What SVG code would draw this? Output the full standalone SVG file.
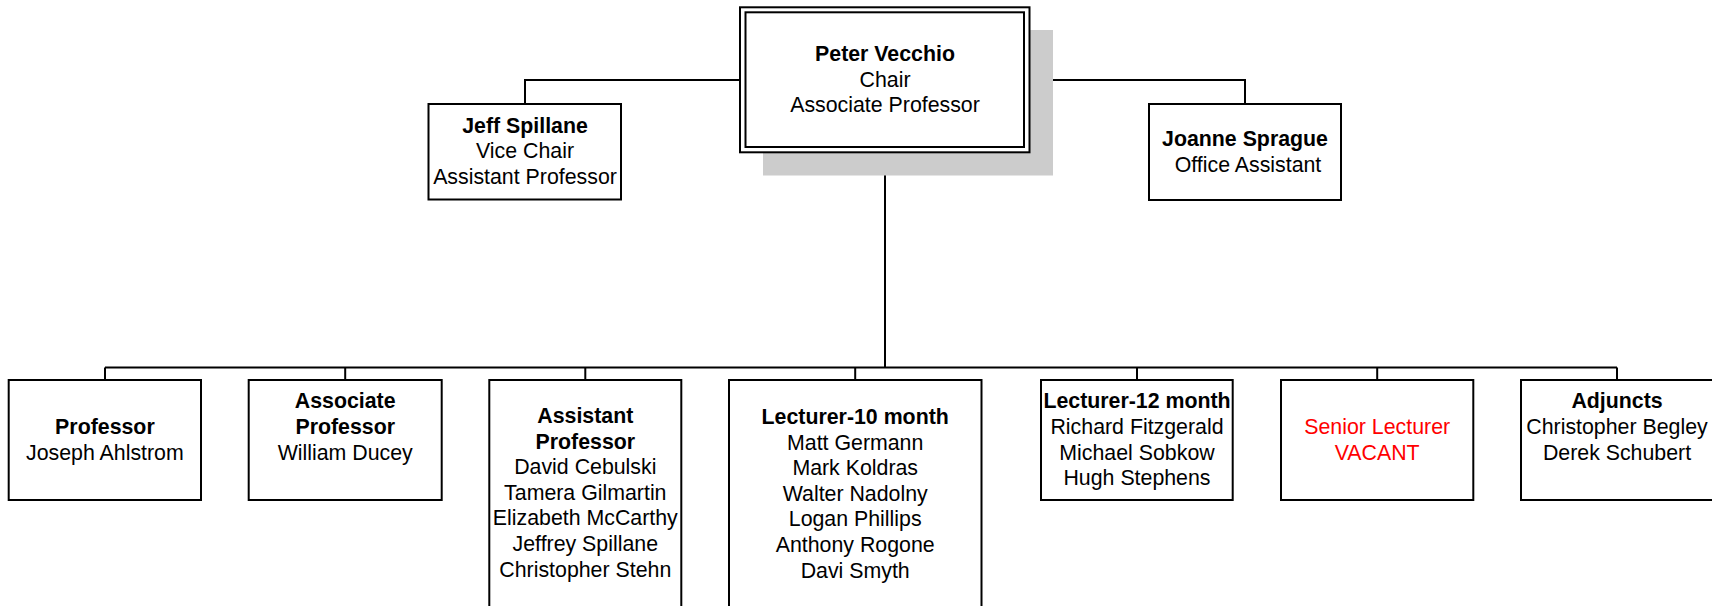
<svg xmlns="http://www.w3.org/2000/svg" width="1712" height="606" viewBox="0 0 1712 606">
<style>
.box{fill:#fff;stroke:#000;stroke-width:2}
.con{fill:none;stroke:#000;stroke-width:2}
text{font-family:"Liberation Sans",Arial,sans-serif;font-size:21.33px;fill:#000;text-anchor:middle}
.b{font-weight:bold}
.red{fill:#ff0000}
</style>
<rect width="1712" height="606" fill="#fff"/>
<g id="connectors">
<path class="con" d="M740 80H525V104M1029.5 80H1245V104M885 152.3V367.5M105 367.5H1617M105 367.5V380M345.2 367.5V380M585.3 367.5V380M855.2 367.5V380M1137 367.5V380M1377.2 367.5V380M1617 367.5V380"/>
</g>
<g id="chair">
<rect x="763" y="30" width="290" height="145.5" fill="#cccccc"/>
<rect class="box" x="740" y="7.3" width="289.5" height="145"/>
<rect class="con" x="745.5" y="12.3" width="278.5" height="134.7"/>
<text x="885" y="61" class="b">Peter Vecchio</text>
<text x="885" y="86.6">Chair</text>
<text x="885" y="112.2">Associate Professor</text>
</g>
<g id="vice-chair">
<rect class="box" x="428.5" y="104" width="192.5" height="95.5"/>
<text x="525" y="132.7" class="b">Jeff Spillane</text>
<text x="525" y="158.3">Vice Chair</text>
<text x="525" y="184">Assistant Professor</text>
</g>
<g id="office-assistant">
<rect class="box" x="1149" y="104" width="192" height="96"/>
<text x="1245" y="146" class="b">Joanne Sprague</text>
<text x="1248" y="171.6">Office Assistant</text>
</g>
<g id="professor">
<rect class="box" x="8.7" y="380" width="192.3" height="120"/>
<text x="104.9" y="434" class="b">Professor</text>
<text x="104.9" y="460">Joseph Ahlstrom</text>
</g>
<g id="associate-professor">
<rect class="box" x="248.7" y="380" width="193" height="120"/>
<text x="345.2" y="408.3" class="b">Associate</text>
<text x="345.2" y="434" class="b">Professor</text>
<text x="345.2" y="459.7">William Ducey</text>
</g>
<g id="assistant-professor">
<rect class="box" x="489.3" y="380" width="192" height="250"/>
<text x="585.3" y="423" class="b">Assistant</text>
<text x="585.3" y="448.6" class="b">Professor</text>
<text x="585.3" y="474.2">David Cebulski</text>
<text x="585.3" y="499.8">Tamera Gilmartin</text>
<text x="585.3" y="525.4">Elizabeth McCarthy</text>
<text x="585.3" y="551">Jeffrey Spillane</text>
<text x="585.3" y="576.6">Christopher Stehn</text>
</g>
<g id="lecturer-10">
<rect class="box" x="729" y="380" width="252.5" height="250"/>
<text x="855.2" y="424" class="b">Lecturer-10 month</text>
<text x="855.2" y="449.6">Matt Germann</text>
<text x="855.2" y="475.2">Mark Koldras</text>
<text x="855.2" y="500.8">Walter Nadolny</text>
<text x="855.2" y="526.4">Logan Phillips</text>
<text x="855.2" y="552">Anthony Rogone</text>
<text x="855.2" y="577.6">Davi Smyth</text>
</g>
<g id="lecturer-12">
<rect class="box" x="1041" y="380" width="191.7" height="120"/>
<text x="1137" y="408.3" class="b">Lecturer-12 month</text>
<text x="1137" y="434">Richard Fitzgerald</text>
<text x="1137" y="459.6">Michael Sobkow</text>
<text x="1137" y="485.2">Hugh Stephens</text>
</g>
<g id="senior-lecturer">
<rect class="box" x="1281" y="380" width="192.3" height="120"/>
<text x="1377.2" y="434" class="red">Senior Lecturer</text>
<text x="1377.2" y="459.6" class="red">VACANT</text>
</g>
<g id="adjuncts">
<rect class="box" x="1521" y="380" width="192" height="120"/>
<text x="1617" y="408.3" class="b">Adjuncts</text>
<text x="1617" y="434">Christopher Begley</text>
<text x="1617" y="459.6">Derek Schubert</text>
</g>
</svg>
